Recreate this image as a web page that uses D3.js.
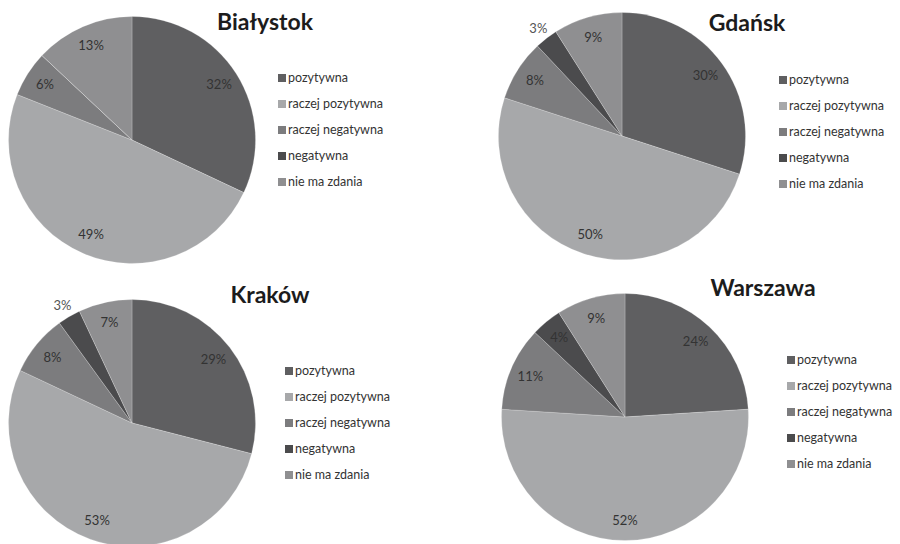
<!DOCTYPE html>
<html>
<head>
<meta charset="utf-8">
<script src="https://cdn.jsdelivr.net/npm/d3@7"></script>
<style>
  html, body { margin: 0; padding: 0; background: #fff; }
  svg { display: block; }
</style>
</head>
<body>
<svg id="chart" width="900" height="544"></svg>
<script>
// Answer categories (legend order, also the slice order clockwise from 12 o'clock)
const categories = ["pozytywna", "raczej pozytywna", "raczej negatywna", "negatywna", "nie ma zdania"];

// Share of answers per city, in percent
const bialystok = [32, 49, 6, 0, 13];
const gdansk    = [30, 50, 8, 3, 9];
const krakow    = [29, 53, 8, 3, 7];
const warszawa  = [24, 52, 11, 4, 9];

const cityNames = ["Białystok", "Gdańsk", "Kraków", "Warszawa"];

const sliceColors = ["#5f5f61", "#a7a8aa", "#7c7c7e", "#4b4b4d", "#8f8f91"];

// Panel layout: pie centre, title anchor and legend anchor for each city
const panels = [
  { name: cityNames[0], values: bialystok, cx: 132, cy: 140, title: [265, 30], legend: [282, 78] },
  { name: cityNames[1], values: gdansk,    cx: 622, cy: 136, title: [747, 31], legend: [783, 80] },
  { name: cityNames[2], values: krakow,    cx: 132, cy: 423, title: [270, 303], legend: [289, 371] },
  { name: cityNames[3], values: warszawa,  cx: 625, cy: 417, title: [763, 296], legend: [791, 360] }
];

const R = 123.5;
const svg = d3.select("#chart");

const color = d3.scaleOrdinal().domain(categories).range(sliceColors);
const pie = d3.pie().sort(null).value(d => d.value);
const arc = d3.arc().innerRadius(0).outerRadius(R);
const labelArc = d3.arc().innerRadius(R * 0.835).outerRadius(R * 0.835);
const outerLabelArc = d3.arc().innerRadius(R + 13).outerRadius(R + 13);

panels.forEach(p => {
  const rows = categories.map((c, i) => ({ cat: c, value: p.values[i] }));
  const arcs = pie(rows);

  const g = svg.append("g").attr("transform", `translate(${p.cx},${p.cy})`);

  g.selectAll("path.slice")
    .data(arcs)
    .join("path")
    .attr("class", "slice")
    .attr("d", arc)
    .attr("fill", d => color(d.data.cat))
    .attr("stroke", "rgba(255,255,255,0.35)")
    .attr("stroke-width", 0.6);

  // Percentage labels: inside the slice, small slices placed just outside
  g.selectAll("text.pct")
    .data(arcs.filter(d => d.data.value > 0))
    .join("text")
    .attr("class", "pct")
    .attr("transform", d => {
      const a = d.data.value < 4 ? outerLabelArc : labelArc;
      return `translate(${a.centroid(d)})`;
    })
    .attr("text-anchor", "middle")
    .attr("dy", "0.35em")
    .attr("font-family", "Lato, 'Open Sans', sans-serif")
    .attr("font-size", 13)
    .attr("fill", d => d.data.value < 4 ? "#555" : "#333")
    .text(d => d.data.value + "%");

  // Title
  svg.append("text")
    .attr("x", p.title[0])
    .attr("y", p.title[1])
    .attr("text-anchor", "middle")
    .attr("font-family", "Lato, 'Open Sans', sans-serif")
    .attr("font-weight", "bold")
    .attr("font-size", 23)
    .attr("fill", "#1c1c1c")
    .text(p.name);

  // Legend
  const lg = svg.append("g").attr("transform", `translate(${p.legend[0]},${p.legend[1]})`);
  const item = lg.selectAll("g.item")
    .data(categories)
    .join("g")
    .attr("class", "item")
    .attr("transform", (d, i) => `translate(0,${i * 26})`);
  item.append("rect")
    .attr("x", -4).attr("y", -4)
    .attr("width", 8).attr("height", 8)
    .attr("fill", d => color(d));
  item.append("text")
    .attr("x", 6)
    .attr("dy", "0.35em")
    .attr("font-family", "Lato, 'Open Sans', sans-serif")
    .attr("font-size", 12.5)
    .attr("fill", "#333")
    .text(d => d);
});
</script>
</body>
</html>
